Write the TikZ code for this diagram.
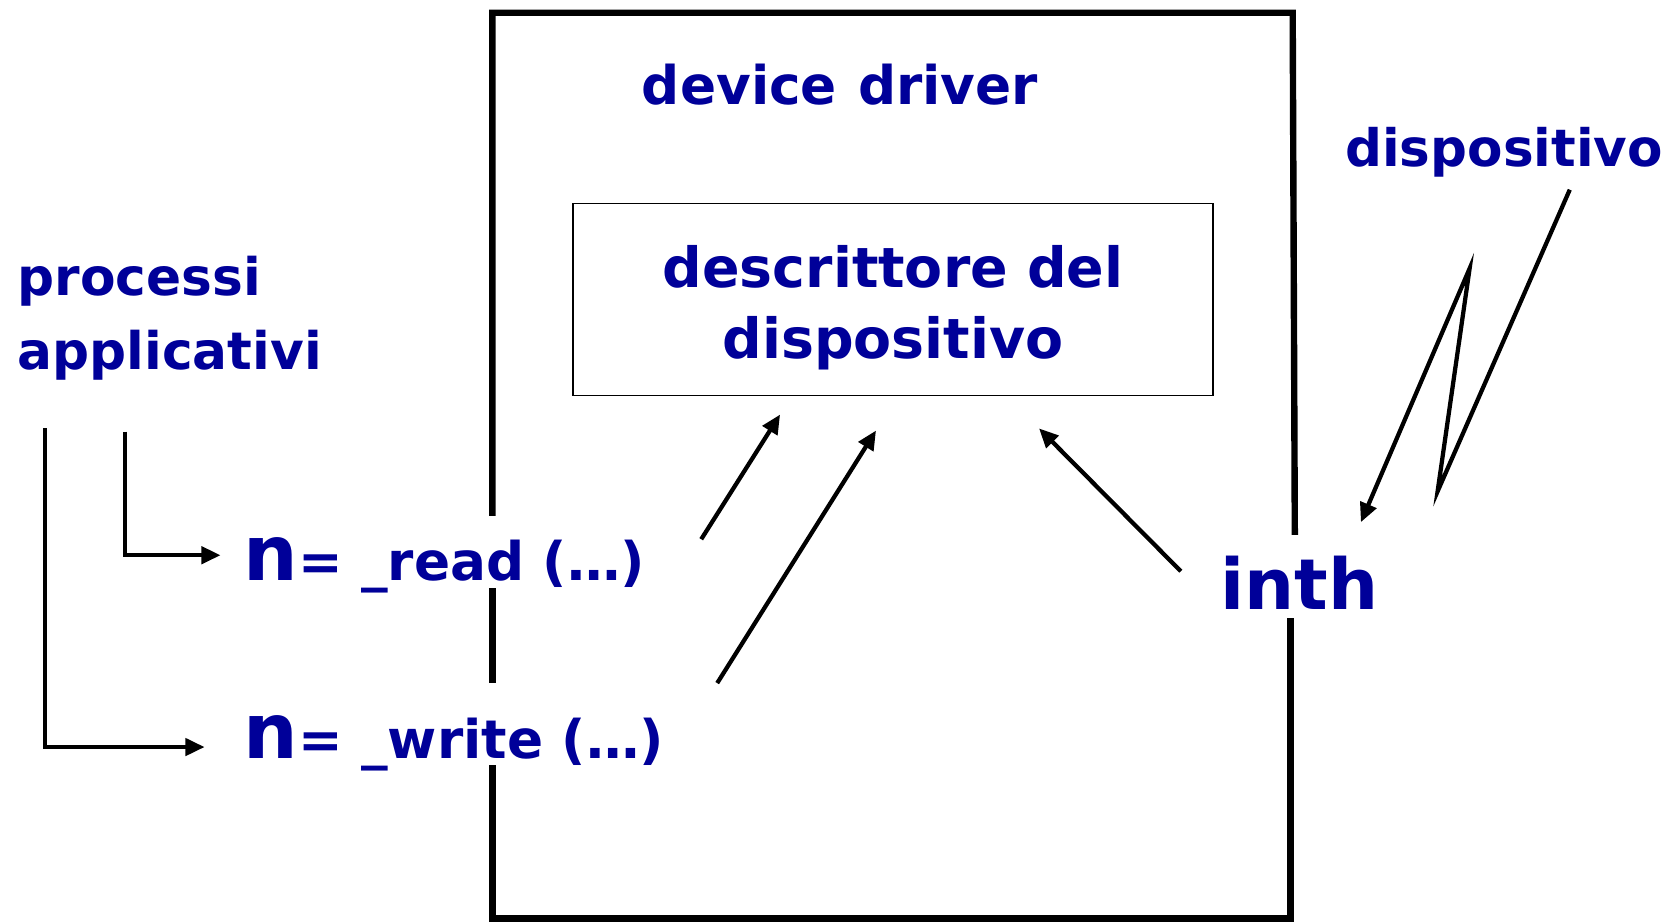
\documentclass[tikz,border=0pt]{standalone}
\usepackage{fontspec}
\setmainfont{DejaVu Sans}
\usetikzlibrary{arrows.meta}
\definecolor{navy}{RGB}{0,0,153}
\tikzset{
  lbl/.style={text=navy, font=\bfseries\fontsize{25}{35}\selectfont, inner sep=0pt},
  conn/.style={line width=2pt, -{Triangle[length=9pt,width=8pt]}},
  wall/.style={line width=3pt},
}
\begin{document}
\begin{tikzpicture}[x=0.5pt,y=-0.5pt]
\useasboundingbox (0,0) rectangle (1568,865);
% outer device driver box (with gaps for texts)
\coordinate (bTL) at (462,12);
\coordinate (bTR) at (1213,12);
\coordinate (bBL) at (462,862);
\coordinate (bBR) at (1211,862);
\draw[wall] (462,484) -- (bTL) -- (bTR) -- (1215,502);
\draw[wall] (462,552) -- (462,641);
\draw[wall] (462,718) -- (bBL) -- (bBR) -- (1211,580);
% texts
\node[lbl, anchor=base west] (devdrv) at (602,98) {device\hspace{0.4em}driver};
\node[draw, line width=0.8pt, minimum width=300pt, minimum height=90pt, inner sep=0pt] (descbox) at (838,281) {};
\node[lbl, align=center, font=\bfseries\fontsize{26}{33.5}\selectfont] (desc) at (838,289) {descrittore del\\dispositivo};
\node[lbl, anchor=base west, font=\bfseries\fontsize{24.2}{35}\selectfont] (disp) at (1262,156) {dispositivo};
\node[lbl, anchor=base west, align=left, font=\bfseries\fontsize{24.3}{35}\selectfont] (proc) at (16,347) {processi\\applicativi};
\node[lbl, anchor=base west] (readcall) at (228,545) {{\fontsize{36}{36}\selectfont n}= \_read (…)};
\node[lbl, anchor=base west] (writecall) at (228,712) {{\fontsize{36}{36}\selectfont n}= \_write (…)};
\node[lbl, anchor=base west, font=\bfseries\fontsize{33}{33}\selectfont] (inth) at (1145,572) {inth};
% connectors
\coordinate (rdtop) at (117,405); \coordinate (rdend) at (207,521);
\coordinate (wrtop) at (42,402);  \coordinate (wrend) at (192,701);
\draw[conn] (rdtop) |- (rdend);
\draw[conn] (wrtop) |- (wrend);
\coordinate (r1) at (658,506);  \coordinate (r2) at (732,389);
\coordinate (w1) at (673,641);  \coordinate (w2) at (822,404);
\coordinate (i1) at (1108,536); \coordinate (i2) at (975,402);
\draw[conn] (r1) -- (r2);
\draw[conn] (w1) -- (w2);
\draw[conn] (i1) -- (i2);
\coordinate (l1) at (1473,178); \coordinate (l2) at (1349,461);
\coordinate (l3) at (1379,252); \coordinate (l4) at (1277,490);
\draw[conn] (l1) -- (l2) -- (l3) -- (l4);
\end{tikzpicture}
\end{document}
